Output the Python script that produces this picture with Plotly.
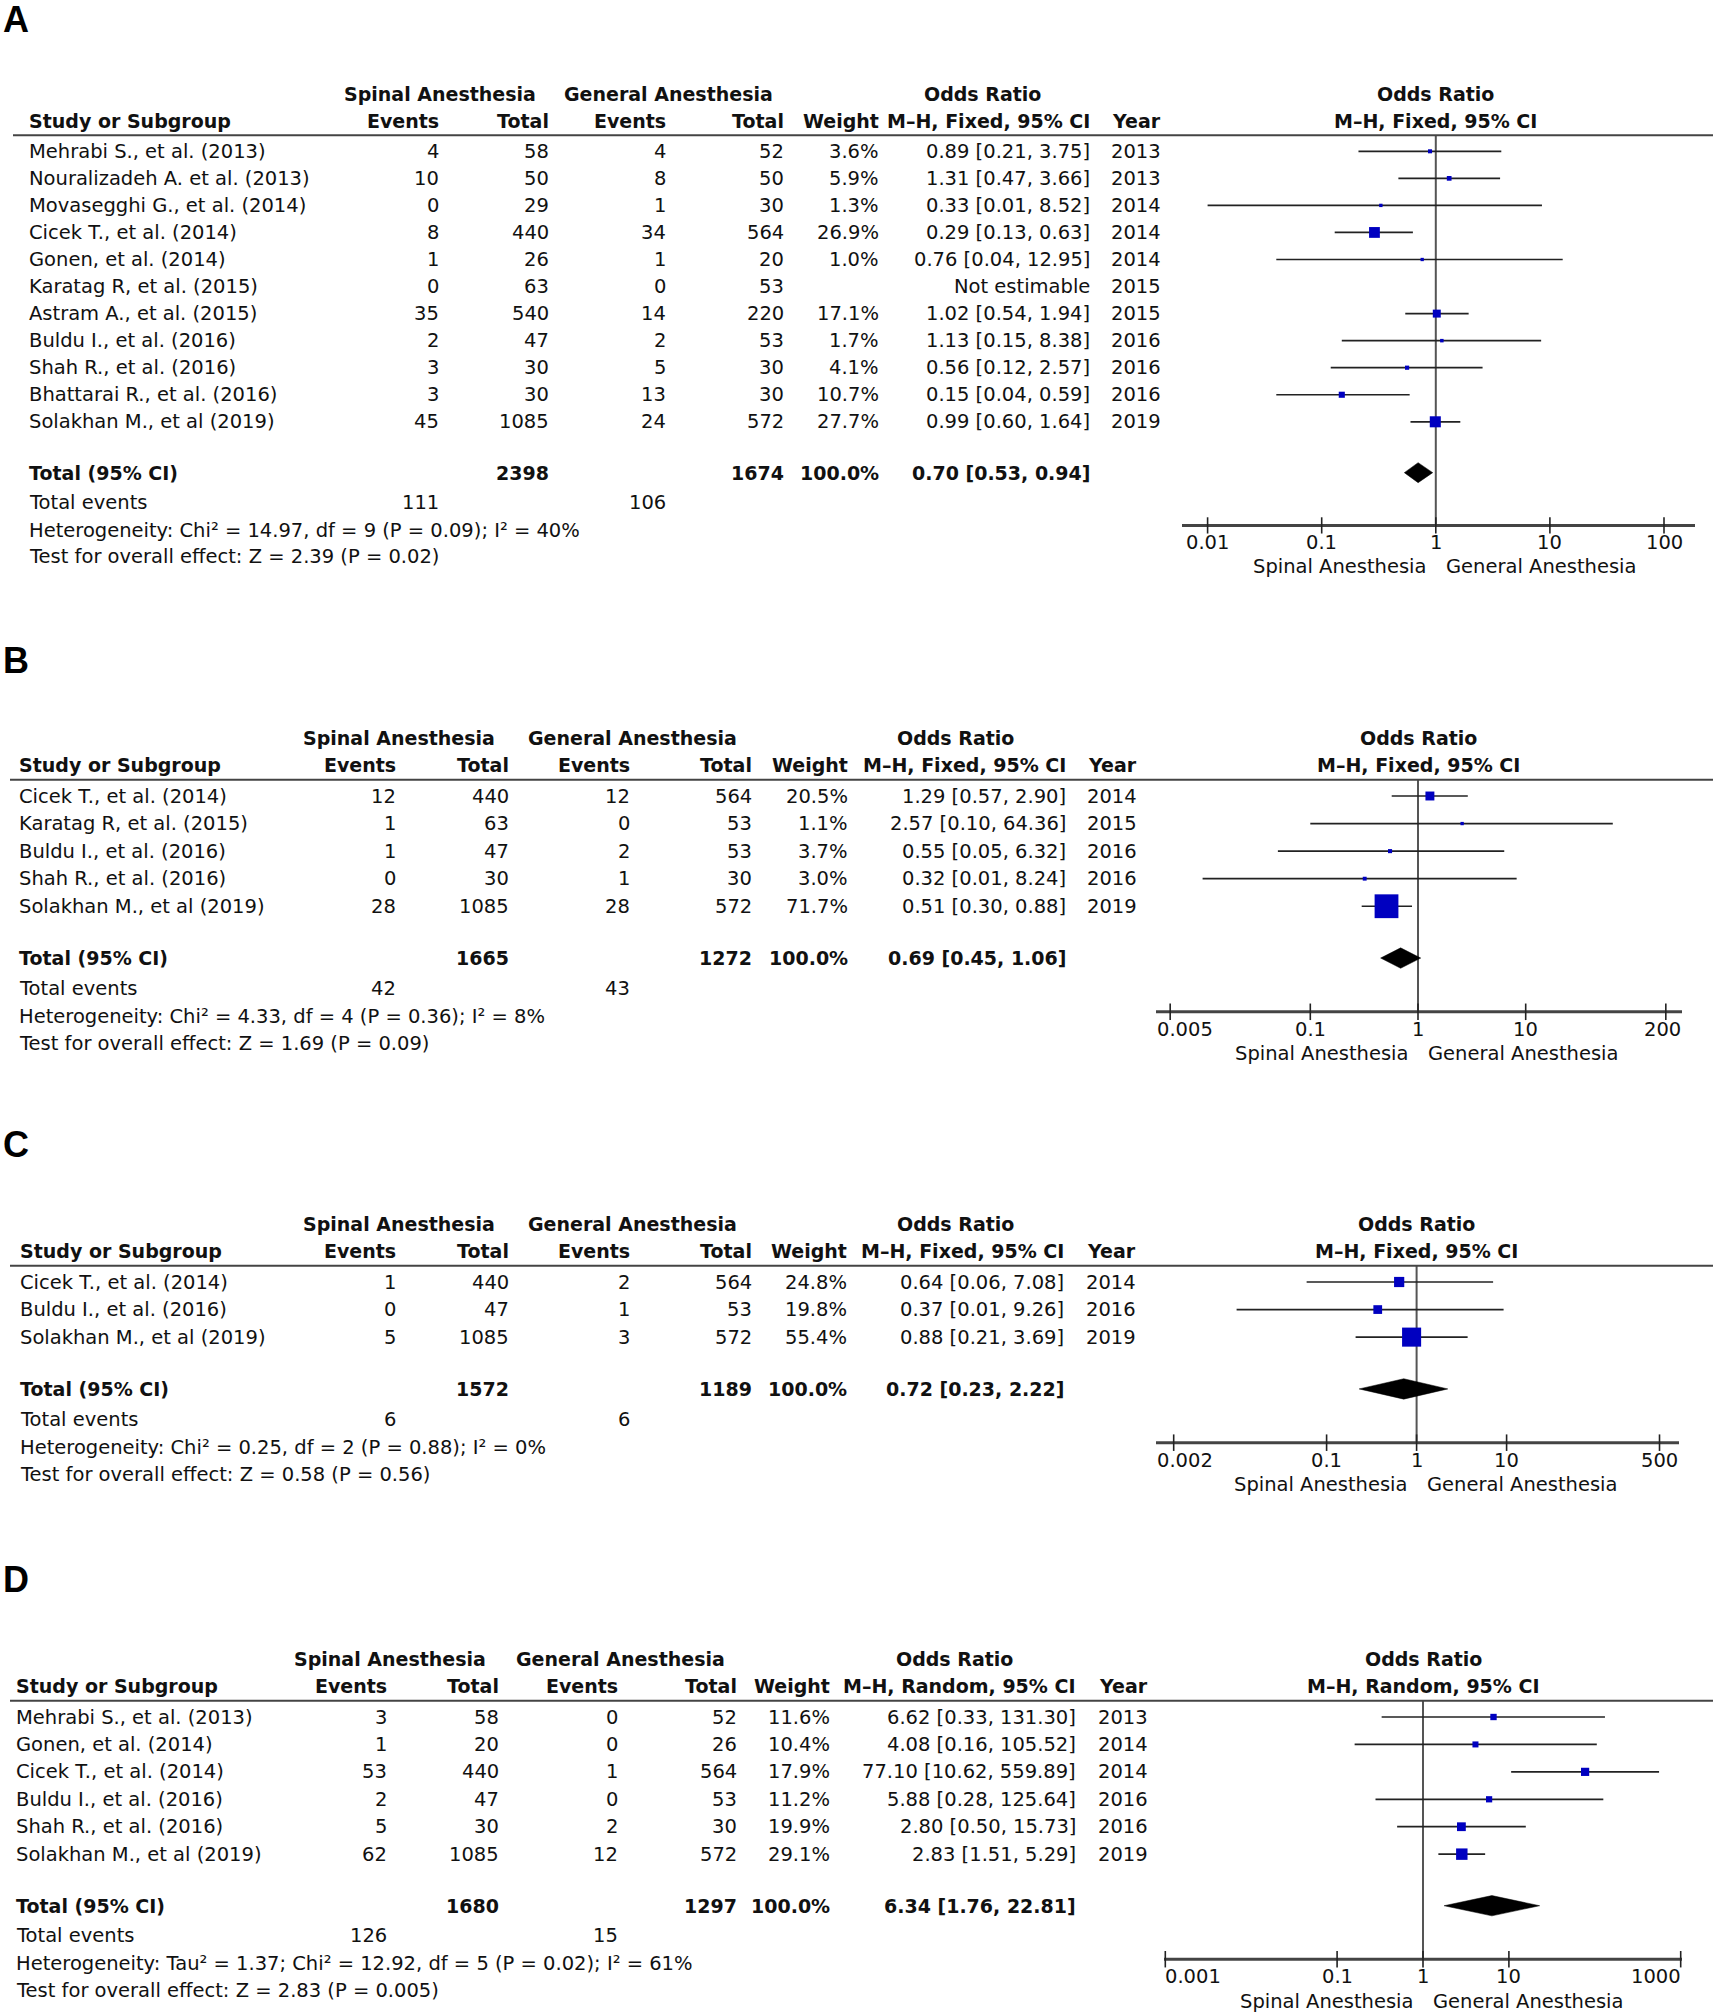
import math
import plotly.graph_objects as go

W, H = 1713, 2012
FONT = "DejaVu Sans"
FS = 19.5
FSB = 19
TXT = "#111111"
BLUE = "#0000C0"
LINEC = "#222222"

# ---------------- Panel A data ----------------
a_study = ["Mehrabi S., et al. (2013)", "Nouralizadeh A. et al. (2013)", "Movasegghi G., et al. (2014)",
           "Cicek T., et al. (2014)", "Gonen, et al. (2014)", "Karatag R, et al. (2015)",
           "Astram A., et al. (2015)", "Buldu I., et al. (2016)", "Shah R., et al. (2016)",
           "Bhattarai R., et al. (2016)", "Solakhan M., et al (2019)"]
a_sp_events = [4, 10, 0, 8, 1, 0, 35, 2, 3, 3, 45]
a_sp_total = [58, 50, 29, 440, 26, 63, 540, 47, 30, 30, 1085]
a_ga_events = [4, 8, 1, 34, 1, 0, 14, 2, 5, 13, 24]
a_ga_total = [52, 50, 30, 564, 20, 53, 220, 53, 30, 30, 572]
a_weight = [3.6, 5.9, 1.3, 26.9, 1.0, None, 17.1, 1.7, 4.1, 10.7, 27.7]
a_or = [0.89, 1.31, 0.33, 0.29, 0.76, None, 1.02, 1.13, 0.56, 0.15, 0.99]
a_lo = [0.21, 0.47, 0.01, 0.13, 0.04, None, 0.54, 0.15, 0.12, 0.04, 0.60]
a_hi = [3.75, 3.66, 8.52, 0.63, 12.95, None, 1.94, 8.38, 2.57, 0.59, 1.64]
a_year = [2013, 2013, 2014, 2014, 2014, 2015, 2015, 2016, 2016, 2016, 2019]
a_sums = [2398, 1674]
a_pooled = [0.70, 0.53, 0.94]
a_events_sum = [111, 106]
a_het = "Heterogeneity: Chi\u00b2 = 14.97, df = 9 (P = 0.09); I\u00b2 = 40%"
a_test = "Test for overall effect: Z = 2.39 (P = 0.02)"
a_method = "M\u2013H, Fixed, 95% CI"
a_ticks = [0.01, 0.1, 1, 10, 100]
a_tick_labels = ["0.01", "0.1", "1", "10", "100"]

# ---------------- Panel B data ----------------
b_study = ["Cicek T., et al. (2014)", "Karatag R, et al. (2015)", "Buldu I., et al. (2016)",
           "Shah R., et al. (2016)", "Solakhan M., et al (2019)"]
b_sp_events = [12, 1, 1, 0, 28]
b_sp_total = [440, 63, 47, 30, 1085]
b_ga_events = [12, 0, 2, 1, 28]
b_ga_total = [564, 53, 53, 30, 572]
b_weight = [20.5, 1.1, 3.7, 3.0, 71.7]
b_or = [1.29, 2.57, 0.55, 0.32, 0.51]
b_lo = [0.57, 0.10, 0.05, 0.01, 0.30]
b_hi = [2.90, 64.36, 6.32, 8.24, 0.88]
b_year = [2014, 2015, 2016, 2016, 2019]
b_sums = [1665, 1272]
b_pooled = [0.69, 0.45, 1.06]
b_events_sum = [42, 43]
b_het = "Heterogeneity: Chi\u00b2 = 4.33, df = 4 (P = 0.36); I\u00b2 = 8%"
b_test = "Test for overall effect: Z = 1.69 (P = 0.09)"
b_method = "M\u2013H, Fixed, 95% CI"
b_ticks = [0.005, 0.1, 1, 10, 200]
b_tick_labels = ["0.005", "0.1", "1", "10", "200"]

# ---------------- Panel C data ----------------
c_study = ["Cicek T., et al. (2014)", "Buldu I., et al. (2016)", "Solakhan M., et al (2019)"]
c_sp_events = [1, 0, 5]
c_sp_total = [440, 47, 1085]
c_ga_events = [2, 1, 3]
c_ga_total = [564, 53, 572]
c_weight = [24.8, 19.8, 55.4]
c_or = [0.64, 0.37, 0.88]
c_lo = [0.06, 0.01, 0.21]
c_hi = [7.08, 9.26, 3.69]
c_year = [2014, 2016, 2019]
c_sums = [1572, 1189]
c_pooled = [0.72, 0.23, 2.22]
c_events_sum = [6, 6]
c_het = "Heterogeneity: Chi\u00b2 = 0.25, df = 2 (P = 0.88); I\u00b2 = 0%"
c_test = "Test for overall effect: Z = 0.58 (P = 0.56)"
c_method = "M\u2013H, Fixed, 95% CI"
c_ticks = [0.002, 0.1, 1, 10, 500]
c_tick_labels = ["0.002", "0.1", "1", "10", "500"]

# ---------------- Panel D data ----------------
d_study = ["Mehrabi S., et al. (2013)", "Gonen, et al. (2014)", "Cicek T., et al. (2014)",
           "Buldu I., et al. (2016)", "Shah R., et al. (2016)", "Solakhan M., et al (2019)"]
d_sp_events = [3, 1, 53, 2, 5, 62]
d_sp_total = [58, 20, 440, 47, 30, 1085]
d_ga_events = [0, 0, 1, 0, 2, 12]
d_ga_total = [52, 26, 564, 53, 30, 572]
d_weight = [11.6, 10.4, 17.9, 11.2, 19.9, 29.1]
d_or = [6.62, 4.08, 77.10, 5.88, 2.80, 2.83]
d_lo = [0.33, 0.16, 10.62, 0.28, 0.50, 1.51]
d_hi = [131.30, 105.52, 559.89, 125.64, 15.73, 5.29]
d_year = [2013, 2014, 2014, 2016, 2016, 2019]
d_sums = [1680, 1297]
d_pooled = [6.34, 1.76, 22.81]
d_events_sum = [126, 15]
d_het = "Heterogeneity: Tau\u00b2 = 1.37; Chi\u00b2 = 12.92, df = 5 (P = 0.02); I\u00b2 = 61%"
d_test = "Test for overall effect: Z = 2.83 (P = 0.005)"
d_method = "M\u2013H, Random, 95% CI"
d_ticks = [0.001, 0.1, 1, 10, 1000]
d_tick_labels = ["0.001", "0.1", "1", "10", "1000"]

group_left = "Spinal Anesthesia"
group_right = "General Anesthesia"

panels = [
    dict(letter="A", study=a_study, spe=a_sp_events, spt=a_sp_total, gae=a_ga_events, gat=a_ga_total,
         wt=a_weight, orv=a_or, lo=a_lo, hi=a_hi, year=a_year, sums=a_sums, pooled=a_pooled,
         evsum=a_events_sum, het=a_het, test=a_test, method=a_method, ticks=a_ticks, ticklab=a_tick_labels),
    dict(letter="B", study=b_study, spe=b_sp_events, spt=b_sp_total, gae=b_ga_events, gat=b_ga_total,
         wt=b_weight, orv=b_or, lo=b_lo, hi=b_hi, year=b_year, sums=b_sums, pooled=b_pooled,
         evsum=b_events_sum, het=b_het, test=b_test, method=b_method, ticks=b_ticks, ticklab=b_tick_labels),
    dict(letter="C", study=c_study, spe=c_sp_events, spt=c_sp_total, gae=c_ga_events, gat=c_ga_total,
         wt=c_weight, orv=c_or, lo=c_lo, hi=c_hi, year=c_year, sums=c_sums, pooled=c_pooled,
         evsum=c_events_sum, het=c_het, test=c_test, method=c_method, ticks=c_ticks, ticklab=c_tick_labels),
    dict(letter="D", study=d_study, spe=d_sp_events, spt=d_sp_total, gae=d_ga_events, gat=d_ga_total,
         wt=d_weight, orv=d_or, lo=d_lo, hi=d_hi, year=d_year, sums=d_sums, pooled=d_pooled,
         evsum=d_events_sum, het=d_het, test=d_test, method=d_method, ticks=d_ticks, ticklab=d_tick_labels),
]

# ---------------- layout (pixel geometry of each panel) ----------------
layouts = [
    dict(p0=151.3, s=27.05, top=0, bot=595, lx0=13, letter_y=19,
         cols=dict(study=28, spe=440, spt=550, gae=667, gat=785, wt=880, orr=1091, yr=1162,
                   sph=440, gah=668, orh=983),
         fx0=1182, fx1=1695, one=1435.8, dec=114.1),
    dict(p0=796, s=27.56, top=630, bot=1078, lx0=10, letter_y=660,
         cols=dict(study=18, spe=397, spt=510, gae=631, gat=752.5, wt=849, orr=1067, yr=1138,
                   sph=399, gah=632, orh=955),
         fx0=1156, fx1=1682, one=1418, dec=107.7),
    dict(p0=1282, s=27.56, top=1115, bot=1512, lx0=10, letter_y=1144,
         cols=dict(study=19, spe=397, spt=510, gae=631, gat=752.5, wt=848, orr=1065, yr=1137,
                   sph=399, gah=632, orh=955),
         fx0=1156, fx1=1679, one=1416.6, dec=90.0),
    dict(p0=1717, s=27.43, top=1550, bot=2012, lx0=10, letter_y=1579,
         cols=dict(study=15.4, spe=388.4, spt=500, gae=619, gat=738.4, wt=830.7, orr=1077, yr=1148.7,
                   sph=390.4, gah=620, orh=954),
         fx0=1164, fx1=1682, one=1423, dec=85.9),
]

fig = go.Figure()
annotations = []
shapes = []
lay = {}


def fmt_or(o, l, h):
    if o is None:
        return "Not estimable"
    return f"{o:.2f} [{l:.2f}, {h:.2f}]"


def txt(x_px, y, yref, text, anchor="right", bold=False, size=None):
    annotations.append(dict(
        x=x_px / W, xref="paper", y=y, yref=yref, text=f"<b>{text}</b>" if bold else text,
        showarrow=False, xanchor=anchor, yanchor="middle",
        font=dict(family=FONT, size=size or (FSB if bold else FS), color=TXT), borderpad=0))


for i, (p, L) in enumerate(zip(panels, layouts), start=1):
    xa = "x" if i == 1 else f"x{i}"
    ya = "y" if i == 1 else f"y{i}"
    c = L["cols"]
    n = len(p["study"])
    last = n - 1
    r_hdr1, r_hdr2, r_line = -2.12, -1.12, -0.59
    r_total = last + 1.88
    r_events = r_total + 1.1
    r_het = r_total + 2.12
    r_test = r_total + 3.1
    r_axis = r_total + 1.95
    r_tick = r_total + 2.58
    r_sub = r_total + 3.48

    # axes
    lo_log = (L["fx0"] - L["one"]) / L["dec"]
    hi_log = (L["fx1"] - L["one"]) / L["dec"]
    lay["xaxis" if i == 1 else f"xaxis{i}"] = dict(
        type="log", range=[lo_log, hi_log], domain=[L["fx0"] / W, L["fx1"] / W],
        visible=False, anchor=ya, fixedrange=True)
    rb = (L["bot"] - L["p0"]) / L["s"]
    rt = (L["top"] - L["p0"]) / L["s"]
    lay["yaxis" if i == 1 else f"yaxis{i}"] = dict(
        range=[rb, rt], domain=[1 - L["bot"] / H, 1 - L["top"] / H],
        visible=False, anchor=xa, fixedrange=True)

    # panel letter
    annotations.append(dict(x=1 / W, xref="paper", y=1 - L["letter_y"] / H, yref="paper",
                            text="<b>" + p["letter"] + "</b>", showarrow=False,
                            xanchor="left", yanchor="middle",
                            font=dict(family="Liberation Sans", size=36, color="#000000")))

    # headers
    txt(c["sph"], r_hdr1, ya, group_left, "center", True)
    txt(c["gah"], r_hdr1, ya, group_right, "center", True)
    txt(c["orh"], r_hdr1, ya, "Odds Ratio", "center", True)
    txt(c["study"], r_hdr2, ya, "Study or Subgroup", "left", True)
    txt(c["spe"], r_hdr2, ya, "Events", "right", True)
    txt(c["spt"], r_hdr2, ya, "Total", "right", True)
    txt(c["gae"], r_hdr2, ya, "Events", "right", True)
    txt(c["gat"], r_hdr2, ya, "Total", "right", True)
    txt(c["wt"], r_hdr2, ya, "Weight", "right", True)
    txt(c["orr"], r_hdr2, ya, p["method"], "right", True)
    txt(c["yr"], r_hdr2, ya, "Year", "right", True)
    # right-side header centered on the line of no effect
    for rr, t in ((r_hdr1, "Odds Ratio"), (r_hdr2, p["method"])):
        annotations.append(dict(x=0, xref=xa, y=rr, yref=ya, text=f"<b>{t}</b>", showarrow=False,
                                xanchor="center", yanchor="middle",
                                font=dict(family=FONT, size=FSB, color=TXT), borderpad=0))

    shapes.append(dict(type="line", xref="paper", yref=ya, x0=L["lx0"] / W, x1=1, y0=r_line, y1=r_line,
                       line=dict(color="#444444", width=2)))

    # study rows
    for r in range(n):
        txt(c["study"], r, ya, p["study"][r], "left")
        txt(c["spe"], r, ya, str(p["spe"][r]))
        txt(c["spt"], r, ya, str(p["spt"][r]))
        txt(c["gae"], r, ya, str(p["gae"][r]))
        txt(c["gat"], r, ya, str(p["gat"][r]))
        if p["wt"][r] is not None:
            txt(c["wt"], r, ya, f"{p['wt'][r]:.1f}%")
        txt(c["orr"], r, ya, fmt_or(p["orv"][r], p["lo"][r], p["hi"][r]))
        txt(c["yr"], r, ya, str(p["year"][r]))

    # total rows
    txt(c["study"], r_total, ya, "Total (95% CI)", "left", True)
    txt(c["spt"], r_total, ya, str(p["sums"][0]), "right", True)
    txt(c["gat"], r_total, ya, str(p["sums"][1]), "right", True)
    txt(c["wt"], r_total, ya, "100.0%", "right", True)
    txt(c["orr"], r_total, ya, fmt_or(*p["pooled"]), "right", True)
    txt(c["study"], r_events, ya, "Total events", "left")
    txt(c["spe"], r_events, ya, str(p["evsum"][0]))
    txt(c["gae"], r_events, ya, str(p["evsum"][1]))
    txt(c["study"], r_het, ya, p["het"], "left")
    txt(c["study"], r_test, ya, p["test"], "left")

    # line of no effect
    fig.add_trace(go.Scatter(x=[1, 1], y=[r_line, r_axis], mode="lines", line=dict(color="#555555", width=2),
                             xaxis=xa, yaxis=ya, hoverinfo="skip", showlegend=False))
    # CI lines
    cx, cy = [], []
    for r in range(n):
        if p["orv"][r] is None:
            continue
        cx += [p["lo"][r], p["hi"][r], None]
        cy += [r, r, None]
    fig.add_trace(go.Scatter(x=cx, y=cy, mode="lines", line=dict(color=LINEC, width=1.7),
                             xaxis=xa, yaxis=ya, hoverinfo="skip", showlegend=False))
    # squares sized by weight
    idx = [r for r in range(n) if p["orv"][r] is not None]
    fig.add_trace(go.Scatter(x=[p["orv"][r] for r in idx], y=idx, mode="markers",
                             marker=dict(symbol="square", color=BLUE, opacity=1,
                                         size=[3 + 0.29 * p["wt"][r] for r in idx], line=dict(width=0)),
                             xaxis=xa, yaxis=ya, hoverinfo="skip", showlegend=False))
    # pooled diamond
    est, plo, phi = p["pooled"]
    hh = 0.37
    fig.add_trace(go.Scatter(x=[plo, est, phi, est, plo], y=[r_total, r_total - hh, r_total, r_total + hh, r_total],
                             mode="lines", fill="toself", fillcolor="#000000", line=dict(color="#000000", width=0.5),
                             xaxis=xa, yaxis=ya, hoverinfo="skip", showlegend=False))
    # axis line
    fig.add_trace(go.Scatter(x=[10 ** lo_log, 10 ** hi_log], y=[r_axis, r_axis], mode="lines",
                             line=dict(color="#444444", width=3), xaxis=xa, yaxis=ya,
                             hoverinfo="skip", showlegend=False))
    # ticks
    tx, ty = [], []
    for t in p["ticks"]:
        tx += [t, t, None]
        ty += [r_axis - 0.3, r_axis + 0.3, None]
    fig.add_trace(go.Scatter(x=tx, y=ty, mode="lines", line=dict(color="#222222", width=1.6),
                             xaxis=xa, yaxis=ya, hoverinfo="skip", showlegend=False))
    # tick labels, kept inside the axis line
    for t, lab in zip(p["ticks"], p["ticklab"]):
        px = L["one"] + math.log10(t) * L["dec"]
        half = len(lab) * 0.6 * FS / 2
        if px - half < L["fx0"]:
            ann = dict(x=L["fx0"] / W, xref="paper", xanchor="left")
        elif px + half > L["fx1"]:
            ann = dict(x=L["fx1"] / W, xref="paper", xanchor="right")
        else:
            ann = dict(x=math.log10(t), xref=xa, xanchor="center")
        ann.update(y=r_tick, yref=ya, text=lab, showarrow=False, yanchor="middle",
                   font=dict(family=FONT, size=FS, color=TXT), borderpad=0)
        annotations.append(ann)
    # favours labels
    annotations.append(dict(x=0, xref=xa, y=r_sub, yref=ya, text=group_left, showarrow=False,
                            xanchor="right", yanchor="middle", xshift=-9,
                            font=dict(family=FONT, size=FS, color=TXT), borderpad=0))
    annotations.append(dict(x=0, xref=xa, y=r_sub, yref=ya, text=group_right, showarrow=False,
                            xanchor="left", yanchor="middle", xshift=9,
                            font=dict(family=FONT, size=FS, color=TXT), borderpad=0))

fig.update_layout(width=W, height=H, margin=dict(l=0, r=0, t=0, b=0),
                  paper_bgcolor="white", plot_bgcolor="white",
                  annotations=annotations, shapes=shapes, showlegend=False, **lay)
fig.write_html("out.html", config={"displayModeBar": False},
               post_script="document.body.style.margin='0';document.body.style.overflow='hidden';")
